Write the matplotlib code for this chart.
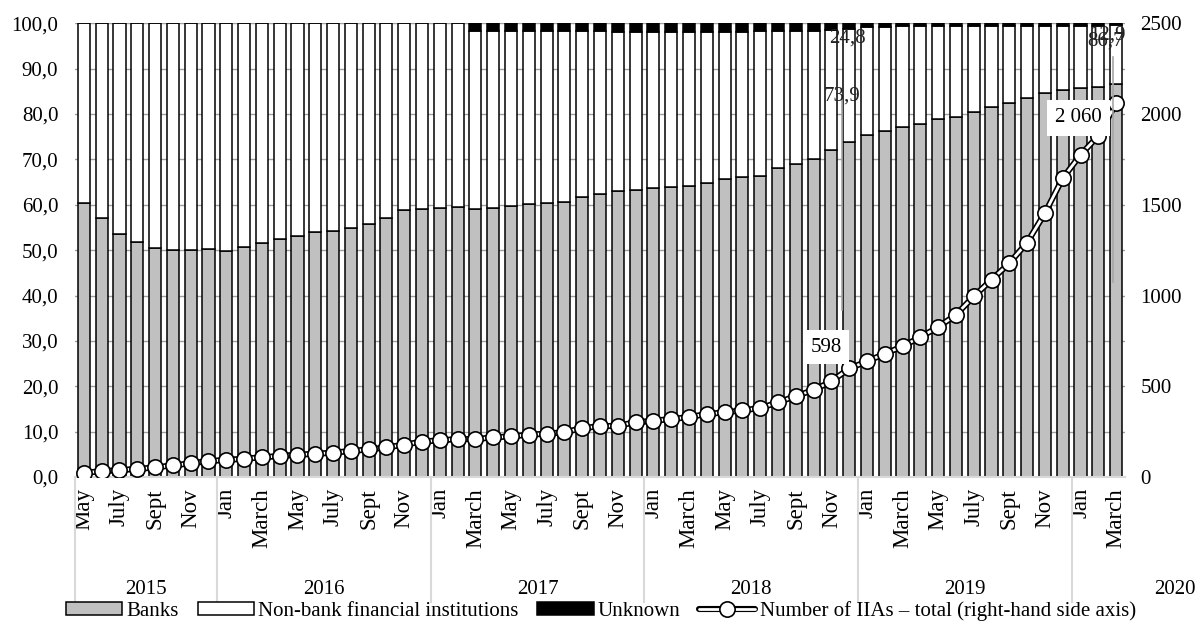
import matplotlib
matplotlib.use('Agg')
import matplotlib.pyplot as plt
import numpy as np
from matplotlib.patches import Patch
from matplotlib.lines import Line2D
from matplotlib.legend_handler import HandlerTuple

plt.rcParams['font.family'] = ['Liberation Serif', 'DejaVu Serif']
FS = 15

# ---------------- data ----------------
years = ['2015', '2016', '2017', '2018', '2019', '2020']
year_months = [8, 12, 12, 12, 12, 3]

month_ticks = (['May', '', 'July', '', 'Sept', '', 'Nov', ''] +
               ['Jan', '', 'March', '', 'May', '', 'July', '', 'Sept', '', 'Nov', ''] * 4 +
               ['Jan', '', 'March'])

banks = [60.3, 57.1, 53.5, 51.8, 50.5, 50.0, 50.1, 50.3, 49.8, 50.7, 51.6, 52.4,
         53.2, 54.0, 54.3, 54.9, 55.7, 57.1, 58.8, 59.1, 59.3, 59.5,
         59.0, 59.4, 59.8, 60.1, 60.4, 60.6, 61.8, 62.4, 63.1, 63.2, 63.6, 63.9,
         64.1, 64.8, 65.7, 66.1, 66.4, 68.0, 69.0, 70.1, 72.0, 73.9,
         75.3, 76.2, 77.1, 77.9, 79.0, 79.4, 80.5, 81.6, 82.5, 83.5, 84.6, 85.4,
         85.8, 86.0, 86.7]

nonbank = [39.7, 42.9, 46.5, 48.2, 49.5, 50.0, 49.9, 49.7, 50.2, 49.3, 48.4, 47.6,
           46.8, 46.0, 45.7, 45.1, 44.3, 42.9, 41.2, 40.9, 40.7, 40.5,
           39.2, 38.8, 38.4, 38.1, 37.8, 37.6, 36.4, 35.8, 35.0, 34.8, 34.4, 34.1,
           33.9, 33.3, 32.4, 32.0, 31.8, 30.2, 29.3, 28.3, 26.5, 24.8,
           23.9, 23.0, 22.2, 21.4, 20.3, 20.0, 18.9, 17.8, 16.9, 16.0, 14.9, 14.1,
           13.7, 13.5, 12.9]

unknown = [0.0] * 22 + [1.8, 1.8, 1.8, 1.8, 1.8, 1.8, 1.8, 1.8, 1.9, 2.0, 2.0, 2.0,
                        2.0, 1.9, 1.9, 1.9, 1.8, 1.8, 1.7, 1.6, 1.5, 1.3,
                        0.8, 0.8, 0.7, 0.7, 0.7, 0.6, 0.6, 0.6, 0.6, 0.5, 0.5, 0.5,
                        0.5, 0.5, 0.4]

iias = [24, 31, 39, 44, 53, 64, 75, 88, 94, 101, 108, 116, 123, 128, 134, 143,
        152, 163, 178, 195, 202, 209,
        209, 218, 224, 233, 239, 246, 270, 279, 283, 301, 310, 319, 330, 347,
        356, 367, 380, 411, 446, 479,
        527, 598, 637, 679, 720, 771, 826, 894, 995, 1087, 1178, 1292, 1454,
        1646, 1775, 1880, 2060]

# ---------------- figure ----------------
W, H = 1202, 630
fig = plt.figure(figsize=(W / 100, H / 100), dpi=100)
ax = fig.add_axes([75 / W, 1 - 477 / H, 1050 / W, 453.7 / H])
ax2 = ax.twinx()

n = len(banks)
x = np.arange(n)
b = np.array(banks)
nb = np.array(nonbank)
un = np.array(unknown)

bw = 0.68
ax.bar(x, b, bw, color='#C0C0C0', edgecolor='black', linewidth=1.1, zorder=2)
ax.bar(x, nb, bw, bottom=b, color='white', edgecolor='black', linewidth=1.1, zorder=2)
ax.bar(x, un, bw, bottom=b + nb, color='black', edgecolor='black', linewidth=1.1, zorder=2)

ax.set_xlim(-0.5, n - 0.5)
ax.set_ylim(0, 100)
ax.set_yticks(np.arange(0, 101, 10))
ax.set_yticklabels([f'{v:.1f}'.replace('.', ',') for v in np.arange(0, 101, 10)], fontsize=FS)
ax.yaxis.grid(True, color='#A0A0A0', linewidth=1.0, zorder=0)
ax.set_axisbelow(True)
ax.tick_params(axis='y', length=0, pad=12)
ax.set_xticks(x)
ax.set_xticklabels(month_ticks, rotation=90, fontsize=16.5, va='top', ha='center')
ax.tick_params(axis='x', length=0, pad=8)

for s in ['top', 'left', 'right']:
    ax.spines[s].set_visible(False)
    ax2.spines[s].set_visible(False)
ax2.spines['bottom'].set_visible(False)
ax.spines['bottom'].set_color('#D9D9D9')
ax.spines['bottom'].set_linewidth(1.5)

# year separators and labels
trans = ax.get_xaxis_transform()
y_sep = (477 - 602) / 453.7
y_year = (477 - 589) / 453.7
bounds = [-0.5]
for m in year_months:
    bounds.append(bounds[-1] + m)
for bx in bounds[:-1]:
    ax.plot([bx, bx], [0, y_sep], transform=trans, color='#D9D9D9', lw=1.5,
            clip_on=False, zorder=1)
for i, yr in enumerate(years):
    cx = (bounds[i] + bounds[i + 1]) / 2
    if i == len(years) - 1:
        cx = 61.3
    ax.text(cx, y_year, yr, transform=trans, ha='center', va='center', fontsize=FS)

# line on secondary axis
ax2.set_ylim(0, 2500)
ax2.set_yticks(np.arange(0, 2501, 500))
ax2.set_yticklabels([str(v) for v in range(0, 2501, 500)], fontsize=FS)
ax2.tick_params(axis='y', length=0, pad=11)
ax2.plot(x, iias, color='black', lw=4.4, solid_capstyle='round', zorder=3)
ax2.plot(x, iias, color='white', lw=2.0, solid_capstyle='round', zorder=4)
ax2.plot(x, iias, ls='none', marker='o', ms=11, mfc='white', mec='black', mew=1.2, zorder=5)

# data labels
ax2.text(41.7, 716, '598', ha='center', va='center', fontsize=FS, zorder=6,
         bbox=dict(facecolor='white', edgecolor='none', pad=5.5))
ax2.text(55.9, 1980, '2 060', ha='center', va='center', fontsize=FS, zorder=6,
         bbox=dict(facecolor='white', edgecolor='none', pad=6))
ax2.plot([42.6, 42.6], [36.8 * 25, 83.0 * 25], color='#A6A6A6', lw=1.2, zorder=6)
ax2.plot([57.8, 57.8], [43.0 * 25, 92.5 * 25], color='#A6A6A6', lw=1.2, zorder=6)
ax2.text(42.9, 96.7, '24,8', transform=ax.transData, ha='center', va='center',
         fontsize=FS, color='#222222', zorder=7)
ax2.text(42.6, 83.9, '73,9', transform=ax.transData, ha='center', va='center',
         fontsize=FS, color='#222222', zorder=7)
ax2.text(57.5, 97.4, '12,9', transform=ax.transData, ha='center', va='center',
         fontsize=FS, color='#222222', zorder=7)
ax2.text(57.4, 96.0, '86,7', transform=ax.transData, ha='center', va='center',
         fontsize=FS, color='#222222', zorder=7)

# legend
h_banks = Patch(facecolor='#C0C0C0', edgecolor='black', linewidth=1.1)
h_nb = Patch(facecolor='white', edgecolor='black', linewidth=1.1)
h_un = Patch(facecolor='black', edgecolor='black', linewidth=1.1)
l1 = Line2D([], [], color='black', lw=4.4, solid_capstyle='round')
l2 = Line2D([], [], color='white', lw=2.0, solid_capstyle='round')
l3 = Line2D([], [], ls='none', marker='o', ms=11, mfc='white', mec='black', mew=1.2)
fig.legend([h_banks, h_nb, h_un, (l1, l2, l3)],
           ['Banks', 'Non-bank financial institutions', 'Unknown',
            'Number of IIAs – total (right-hand side axis)'],
           handler_map={tuple: HandlerTuple(ndivide=1, pad=0)},
           loc='center', bbox_to_anchor=(0.5, 1 - 611 / H), ncol=4, frameon=False,
           fontsize=15, handlelength=2.7, handleheight=0.6, handletextpad=0.2,
           columnspacing=0.9, borderpad=0, borderaxespad=0)

fig.savefig('out.png', dpi=100)
